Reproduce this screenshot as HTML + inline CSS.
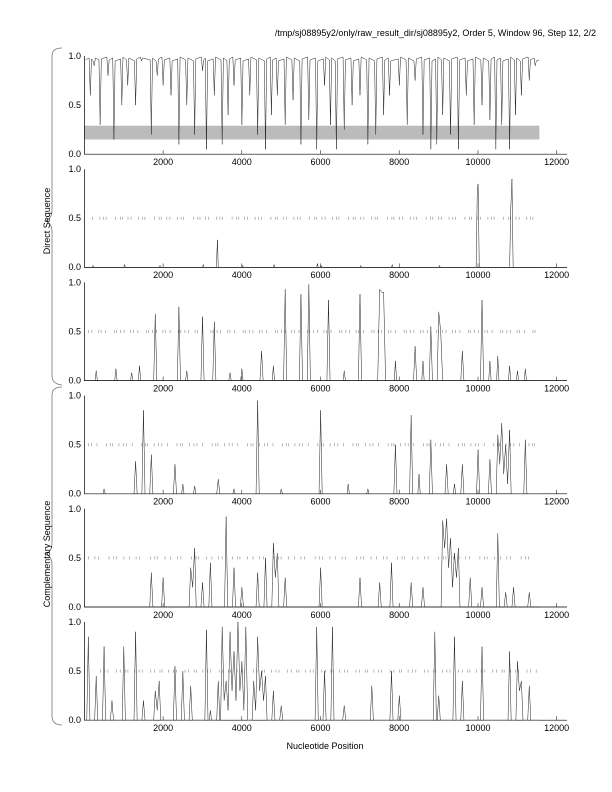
<!DOCTYPE html>
<html><head><meta charset="utf-8"><style>
html,body{margin:0;padding:0;background:#fff}
svg{display:block}
text{font-family:"Liberation Sans",sans-serif;fill:#000;font-size:9px}
.d{fill:none;stroke:#222;stroke-width:0.5;vector-effect:non-scaling-stroke}
.ax{fill:none;stroke:#000;stroke-width:0.7}
.tk{stroke:#000;stroke-width:0.5}
.da{stroke:#888;stroke-width:3}
</style></head><body>
<svg width="612" height="792" viewBox="0 0 612 792" xmlns="http://www.w3.org/2000/svg">
<defs>
<g id="axes">
<path class="ax" d="M84.4,56 L84.4,154.2 L567,154.2"/>
<path class="tk" d="M163.1,154.2v-4M241.8,154.2v-4M320.5,154.2v-4M399.2,154.2v-4M478,154.2v-4M556.6,154.2v-4"/>
</g>
</defs>
<text x="596" y="36" text-anchor="end">/tmp/sj08895y2/only/raw_result_dir/sj08895y2, Order 5, Window 96, Step 12, 2/2</text>
<text x="325" y="749" text-anchor="middle">Nucleotide Position</text>
<path d="M62,48 Q52,48 52,56 L52,210 Q52,219 45,221 Q52,223 52,232 L52,376 Q52,384 62,385" fill="none" stroke="#777" stroke-width="0.8"/>
<path d="M62,387 Q52,387 52,395 L52,543 Q52,552 45,554 Q52,556 52,565 L52,716 Q52,725 62,725" fill="none" stroke="#777" stroke-width="0.8"/>
<text transform="translate(50,221) rotate(-90)" text-anchor="middle">Direct Sequence</text>
<text transform="translate(50,554) rotate(-90)" text-anchor="middle">Complementary Sequence</text>

<!-- panel 0 -->
<g>
<rect x="84.4" y="125.7" width="455" height="13.8" fill="#bbb"/>
<use href="#axes"/>
<g transform="translate(84.4,154.2) scale(3.937,-0.982)">
<path class="d" d="M0.3,96 L1.2,98 L1.5,60 L1.8,97 L2.2,95 L2.5,90 L2.8,98 L3.7,96 L4,30 L4.3,97 L5.7,99 L6,80 L6.3,96 L7.2,98 L7.5,15 L7.8,95 L9.2,97 L9.5,50 L9.8,99 L10.7,96 L11,70 L11.3,98 L12.7,95 L13,50 L13.3,97 L14.2,99 L14.5,95 L14.8,98 L16.7,96 L17,20 L17.3,98 L18.2,95 L18.5,80 L18.8,97 L19.7,99 L20,70 L20.3,96 L21.7,98 L22,60 L22.3,95 L23.7,97 L24,10 L24.3,99 L25.7,96 L26,50 L26.3,98 L27.7,95 L28,20 L28.3,97 L29.7,99 L30,85 L30.3,96 L30.7,98 L31,5 L31.3,95 L32.7,97 L33,60 L33.3,99 L34.7,96 L35,10 L35.3,98 L36.2,95 L36.5,40 L36.8,97 L37.7,99 L38,70 L38.3,96 L39.7,98 L40,30 L40.3,95 L41.7,97 L42,60 L42.3,99 L43.7,96 L44,20 L44.3,98 L45.7,95 L46,5 L46.3,97 L47.2,99 L47.5,40 L47.8,96 L48.7,98 L49,60 L49.3,95 L50.7,97 L51,30 L51.3,99 L52.7,96 L53,55 L53.3,98 L54.7,95 L55,10 L55.3,97 L56.7,99 L57,35 L57.3,96 L58.7,98 L59,5 L59.3,95 L60.7,97 L61,70 L61.3,99 L62.2,96 L62.5,30 L62.8,98 L63.7,95 L64,5 L64.3,97 L65.7,99 L66,25 L66.3,96 L67.7,98 L68,50 L68.3,95 L69.7,97 L70,60 L70.3,99 L71.7,96 L72,10 L72.3,98 L73.7,95 L74,20 L74.3,97 L75.7,99 L76,40 L76.3,96 L77.2,98 L77.5,60 L77.8,95 L79.7,97 L80,70 L80.3,99 L81.7,96 L82,30 L82.3,98 L83.7,95 L84,75 L84.3,97 L85.7,99 L86,20 L86.3,96 L87.7,98 L88,5 L88.3,95 L89.2,97 L89.5,10 L89.8,99 L90.7,96 L91,40 L91.3,98 L92.7,95 L93,20 L93.3,97 L94.7,99 L95,5 L95.3,96 L96.7,98 L97,60 L97.3,95 L98.7,97 L99,30 L99.3,99 L100.7,96 L101,50 L101.3,98 L102.7,95 L103,35 L103.3,97 L104.2,99 L104.5,5 L104.8,96 L105.7,98 L106,30 L106.3,95 L107.7,97 L108,5 L108.3,99 L109.2,96 L109.5,40 L109.8,98 L110.7,95 L111,60 L111.3,97 L112.7,99 L113,75 L113.3,96 L114.2,98 L114.5,90 L114.8,95 L115.5,96"/>
</g>
<text x="81" y="59" text-anchor="end">1.0</text><text x="81" y="108" text-anchor="end">0.5</text><text x="81" y="157" text-anchor="end">0.0</text>
<text x="163.1" y="165" text-anchor="middle">2000</text><text x="241.8" y="165" text-anchor="middle">4000</text><text x="320.5" y="165" text-anchor="middle">6000</text><text x="399.2" y="165" text-anchor="middle">8000</text><text x="478" y="165" text-anchor="middle">10000</text><text x="556.6" y="165" text-anchor="middle">12000</text>
</g>

<!-- panel 1 -->
<g transform="translate(0,113.2)">
<use href="#axes"/>
<line class="da" x1="92" y1="105.1" x2="538" y2="105.1" stroke-dasharray="0.6 7 0.6 3 0.6 2 0.6 9 0.6 4 0.6 1.5 0.6 5 0.6 2.5"/>
<g transform="translate(84.4,154.2) scale(3.937,-0.982)">
<path class="d" d="M0,0 L2,0 L2.2,2 L2.4,0 L10,0 L10.2,3 L10.4,0 L19,0 L19.2,2 L19.4,0 L30,0 L30.2,3 L30.4,0 L33.5,0 L33.8,28 L34,0 L40,0 L40.2,2 L40.4,0 L48,0 L48.2,3 L48.4,0 L59,0 L59.2,4 L59.4,0 L60,0 L60.2,2 L60.4,0 L70,0 L70.2,2 L70.4,0 L78,0 L78.2,3 L78.4,0 L90,0 L90.2,2 L90.4,0 L99.5,0 L99.8,80 L100,85 L100.3,0 L108,0 L108.3,60 L108.6,90 L108.9,0 L115.5,0"/>
</g>
<text x="81" y="59" text-anchor="end">1.0</text><text x="81" y="108" text-anchor="end">0.5</text><text x="81" y="157" text-anchor="end">0.0</text>
<text x="163.1" y="165" text-anchor="middle">2000</text><text x="241.8" y="165" text-anchor="middle">4000</text><text x="320.5" y="165" text-anchor="middle">6000</text><text x="399.2" y="165" text-anchor="middle">8000</text><text x="478" y="165" text-anchor="middle">10000</text><text x="556.6" y="165" text-anchor="middle">12000</text>
</g>

<!-- panel 2 -->
<g transform="translate(0,226.4)">
<use href="#axes"/>
<line class="da" x1="88" y1="105.1" x2="538" y2="105.1" stroke-dasharray="0.6 3 0.6 6 0.6 2 0.6 4 0.6 8 0.6 1.5 0.6 3.5"/>
<g transform="translate(84.4,154.2) scale(3.937,-0.982)">
<path class="d" d="M0,0 L2.7,0 L3,10 L3.3,0 L7.7,0 L8,12 L8.3,0 L11.7,0 L12,8 L12.3,0 L13.7,0 L14,15 L14.3,0 L17.6,0 L18,68 L18.4,0 L23.6,0 L24,75 L24.4,0 L25.7,0 L26,10 L26.3,0 L29.6,0 L30,65 L30.4,0 L32.6,0 L33,60 L33.4,0 L36.7,0 L37,8 L37.3,0 L39.7,0 L40,12 L40.3,0 L44.6,0 L45,30 L45.4,0 L47.7,0 L48,15 L48.3,0 L50.6,0 L51,93 L51.4,0 L54.6,0 L55,88 L55.4,0 L56.6,0 L57,98 L57.4,0 L61.6,0 L62,82 L62.4,0 L65.7,0 L66,10 L66.3,0 L69.6,0 L70,88 L70.4,0 L74.5,0 L75,93 L75.5,90 L76,90 L76.5,0 L78.7,0 L79,20 L79.3,0 L83.6,0 L84,35 L84.4,0 L85.7,0 L86,20 L86.3,0 L87.6,0 L88,55 L88.4,0 L89.6,0 L90,70 L90.5,50 L91,0 L95.6,0 L96,30 L96.4,0 L100.6,0 L101,82 L101.4,0 L102.7,0 L103,20 L103.3,0 L104.7,0 L105,25 L105.3,0 L107.7,0 L108,15 L108.3,0 L109.7,0 L110,10 L110.3,0 L111.7,0 L112,12 L112.3,0 L115.5,0"/>
</g>
<text x="81" y="59" text-anchor="end">1.0</text><text x="81" y="108" text-anchor="end">0.5</text><text x="81" y="157" text-anchor="end">0.0</text>
<text x="163.1" y="165" text-anchor="middle">2000</text><text x="241.8" y="165" text-anchor="middle">4000</text><text x="320.5" y="165" text-anchor="middle">6000</text><text x="399.2" y="165" text-anchor="middle">8000</text><text x="478" y="165" text-anchor="middle">10000</text><text x="556.6" y="165" text-anchor="middle">12000</text>
</g>

<!-- panel 3 -->
<g transform="translate(0,339.6)">
<use href="#axes"/>
<line class="da" x1="88" y1="105.1" x2="538" y2="105.1" stroke-dasharray="0.6 2.5 0.6 5 0.6 9 0.6 3 0.6 1.5 0.6 6 0.6 4"/>
<g transform="translate(84.4,154.2) scale(3.937,-0.982)">
<path class="d" d="M0,0 L4.7,0 L5,5 L5.3,0 L12.6,0 L13,33 L13.4,0 L14.6,0 L15,85 L15.4,0 L16.6,0 L17,40 L17.4,0 L22.6,0 L23,30 L23.4,0 L24.7,0 L25,10 L25.3,0 L27.7,0 L28,8 L28.3,0 L33.6,0 L34,15 L34.4,0 L37.7,0 L38,5 L38.3,0 L43.6,0 L44,95 L44.4,0 L49.7,0 L50,5 L50.3,0 L59.6,0 L60,85 L60.4,0 L66.7,0 L67,10 L67.3,0 L71.7,0 L72,5 L72.3,0 L78.6,0 L79,50 L79.4,0 L82.6,0 L83,80 L83.4,0 L84.7,0 L85,20 L85.3,0 L87.6,0 L88,55 L88.4,0 L91.6,0 L92,30 L92.4,0 L93.7,0 L94,10 L94.3,0 L95.6,0 L96,30 L96.4,0 L99.6,0 L100,45 L100.4,0 L102.6,0 L103,35 L103.4,0 L104.6,0 L105,60 L105.5,30 L106,72 L106.5,20 L107,50 L107.5,10 L108,65 L108.4,0 L111.6,0 L112,55 L112.4,0 L115.5,0"/>
</g>
<text x="81" y="59" text-anchor="end">1.0</text><text x="81" y="108" text-anchor="end">0.5</text><text x="81" y="157" text-anchor="end">0.0</text>
<text x="163.1" y="165" text-anchor="middle">2000</text><text x="241.8" y="165" text-anchor="middle">4000</text><text x="320.5" y="165" text-anchor="middle">6000</text><text x="399.2" y="165" text-anchor="middle">8000</text><text x="478" y="165" text-anchor="middle">10000</text><text x="556.6" y="165" text-anchor="middle">12000</text>
</g>

<!-- panel 4 -->
<g transform="translate(0,452.8)">
<use href="#axes"/>
<line class="da" x1="88" y1="105.1" x2="530" y2="105.1" stroke-dasharray="0.6 6 0.6 3 0.6 10 0.6 4 0.6 2 0.6 7 0.6 5"/>
<g transform="translate(84.4,154.2) scale(3.937,-0.982)">
<path class="d" d="M0,0 L16.6,0 L17,35 L17.4,0 L19.6,0 L20,30 L20.4,0 L26.6,0 L27,40 L27.5,20 L28,60 L28.4,0 L29.6,0 L30,25 L30.4,0 L31.6,0 L32,45 L32.4,0 L35.6,0 L36,92 L36.4,0 L37.6,0 L38,40 L38.4,0 L39.6,0 L40,20 L40.4,0 L43.6,0 L44,35 L44.4,0 L45.6,0 L46,50 L46.4,0 L47.6,0 L48,65 L48.5,30 L49,55 L49.4,0 L50.6,0 L51,30 L51.4,0 L59.6,0 L60,40 L60.4,0 L69.6,0 L70,30 L70.4,0 L74.6,0 L75,25 L75.4,0 L77.6,0 L78,45 L78.4,0 L82.6,0 L83,25 L83.4,0 L85.6,0 L86,20 L86.4,0 L90.6,0 L91,88 L91.5,60 L92,90 L92.5,40 L93,70 L93.5,20 L94,55 L94.5,30 L95,60 L95.4,0 L97.6,0 L98,30 L98.4,0 L100.6,0 L101,20 L101.4,0 L104.6,0 L105,75 L105.4,0 L106.6,0 L107,15 L107.4,0 L108.6,0 L109,20 L109.4,0 L112.6,0 L113,15 L113.4,0 L115.5,0"/>
</g>
<text x="81" y="59" text-anchor="end">1.0</text><text x="81" y="108" text-anchor="end">0.5</text><text x="81" y="157" text-anchor="end">0.0</text>
<text x="163.1" y="165" text-anchor="middle">2000</text><text x="241.8" y="165" text-anchor="middle">4000</text><text x="320.5" y="165" text-anchor="middle">6000</text><text x="399.2" y="165" text-anchor="middle">8000</text><text x="478" y="165" text-anchor="middle">10000</text><text x="556.6" y="165" text-anchor="middle">12000</text>
</g>

<!-- panel 5 -->
<g transform="translate(0,566)">
<use href="#axes"/>
<line class="da" x1="100" y1="105.1" x2="538" y2="105.1" stroke-dasharray="0.6 4 0.6 2.5 0.6 8 0.6 3 0.6 5 0.6 1.5 0.6 6"/>
<g transform="translate(84.4,154.2) scale(3.937,-0.982)">
<path class="d" d="M0,0 L0.6,0 L1,85 L1.4,0 L2.6,0 L3,45 L3.4,0 L4.6,0 L5,75 L5.4,0 L6.6,0 L7,20 L7.4,0 L9.6,0 L10,75 L10.4,0 L12.6,0 L13,90 L13.4,0 L14.6,0 L15,20 L15.4,0 L17.6,0 L18,30 L18.5,10 L19,40 L19.4,0 L22.6,0 L23,55 L23.4,0 L24.6,0 L25,50 L25.4,0 L26.6,0 L27,35 L27.4,0 L30.6,0 L31,92 L31.4,0 L31.7,0 L32,10 L32.3,0 L33.6,0 L34,40 L34.4,0 L34.6,0 L35,95 L35.5,20 L36,40 L36.5,10 L37,90 L37.5,30 L38,70 L38.5,20 L39,100 L39.5,30 L40,60 L40.5,10 L41,95 L41.5,0 L42.6,0 L43,40 L43.5,10 L44,85 L44.5,30 L45,50 L45.5,20 L46,45 L46.4,0 L47.6,0 L48,30 L48.4,0 L49.6,0 L50,15 L50.4,0 L58.6,0 L59,95 L59.4,0 L60.6,0 L61,50 L61.4,0 L62.6,0 L63,95 L63.4,0 L65.6,0 L66,15 L66.4,0 L72.6,0 L73,35 L73.4,0 L77.6,0 L78,50 L78.4,0 L79.6,0 L80,25 L80.4,0 L88.6,0 L89,90 L89.4,0 L89.6,0 L90,25 L90.4,0 L93.6,0 L94,85 L94.4,0 L95.6,0 L96,40 L96.4,0 L100.6,0 L101,75 L101.4,0 L107.6,0 L108,70 L108.4,0 L109.6,0 L110,60 L110.5,30 L111,40 L111.4,0 L112.6,0 L113,35 L113.4,0 L115.5,0"/>
</g>
<text x="81" y="59" text-anchor="end">1.0</text><text x="81" y="108" text-anchor="end">0.5</text><text x="81" y="157" text-anchor="end">0.0</text>
<text x="163.1" y="165" text-anchor="middle">2000</text><text x="241.8" y="165" text-anchor="middle">4000</text><text x="320.5" y="165" text-anchor="middle">6000</text><text x="399.2" y="165" text-anchor="middle">8000</text><text x="478" y="165" text-anchor="middle">10000</text><text x="556.6" y="165" text-anchor="middle">12000</text>
</g>
</svg>
</body></html>
